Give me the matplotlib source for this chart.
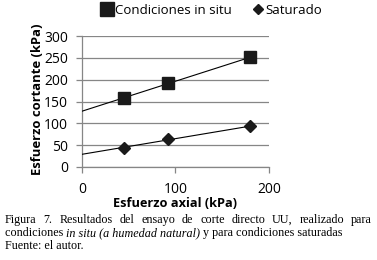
import matplotlib.pyplot as plt
import numpy as np

# data
axial = [45, 92, 180]
in_situ = [158, 192, 251]
saturado = [44, 64, 93]
xticks = [0, 100, 200]
yticks = [0, 50, 100, 150, 200, 250, 300]

grey = "#868686"
plt.rcParams["font.family"] = ["Open Sans", "DejaVu Sans"]
fs = 10

fig = plt.figure(figsize=(3.77, 2.60), dpi=100)
# axes box: x 82..269 px, y 36..167 px
ax = fig.add_axes([82 / 377, 1 - 167 / 260, 187 / 377, 131 / 260])

for y, mk, ms, lab in [(in_situ, "s", 9, "Condiciones in situ"), (saturado, "D", 6, "Saturado")]:
    m, b = np.polyfit(axial, y, 1)
    xs = np.array([0, max(axial)])
    ax.plot(xs, m * xs + b, color="black", lw=0.8, zorder=3)
    ax.plot(axial, y, ls="none", marker=mk, ms=ms, color="#1a1a1a", label=lab, zorder=4)

ax.set_xlim(0, 200)
ax.set_ylim(0, 300)
ax.set_xticks(xticks)
ax.set_yticks(yticks)
ax.yaxis.grid(True, color=grey, lw=0.9)
ax.set_axisbelow(True)
for s in ["top", "right"]:
    ax.spines[s].set_visible(False)
for s in ["left", "bottom"]:
    ax.spines[s].set_color(grey)
    ax.spines[s].set_linewidth(0.9)
ax.tick_params(colors=grey, length=4, width=0.9, labelsize=fs, labelcolor="black")
ax.tick_params(axis="y", pad=6)
ax.tick_params(axis="x", pad=7)
ax.set_xlabel("Esfuerzo axial (kPa)", fontsize=9.2, fontweight="bold")
ax.set_ylabel("Esfuerzo cortante (kPa)", fontsize=9.4, fontweight="bold")
ax.xaxis.set_label_coords((175 - 82) / 187, (167 - 197) / 131)
ax.yaxis.set_label_coords((44 - 82) / 187, (167 - 99) / 131)

leg = ax.legend(loc="center", bbox_to_anchor=((212 - 82) / 187, (167 - 10) / 131), ncol=2,
                frameon=False, fontsize=9.5, handlelength=0.8, handletextpad=0.15,
                columnspacing=1.6, borderaxespad=0, borderpad=0, markerscale=1.0)
leg.legend_handles[0].set_markersize(10)
leg.legend_handles[1].set_markersize(5)

# caption in serif, first line justified
fig.canvas.draw()
r = fig.canvas.get_renderer()
cap_fs = 8.7
left, right = 5, 372


def px_width(t, style="normal"):
    tt = fig.text(0, 0, t, fontsize=cap_fs, family="Liberation Serif", style=style)
    w = tt.get_window_extent(renderer=r).width
    tt.remove()
    return w


def put(xp, yp, t, style="normal"):
    fig.text(xp / 377, 1 - yp / 260, t, fontsize=cap_fs, family="Liberation Serif",
             style=style, va="center", ha="left")


words = "Figura 7. Resultados del ensayo de corte directo UU, realizado para".split()
total = sum(px_width(w) for w in words)
gap = (right - left - total) / (len(words) - 1)
xp = left
for w in words:
    put(xp, 220, w)
    xp += px_width(w) + gap

xp = left
for t, st in [("condiciones ", "normal"), ("in situ (a humedad natural)", "italic"),
              (" y para condiciones saturadas", "normal")]:
    put(xp, 233, t, st)
    xp += px_width(t, st)

put(left, 246, "Fuente: el autor.")

fig.savefig("out.png", dpi=100)
